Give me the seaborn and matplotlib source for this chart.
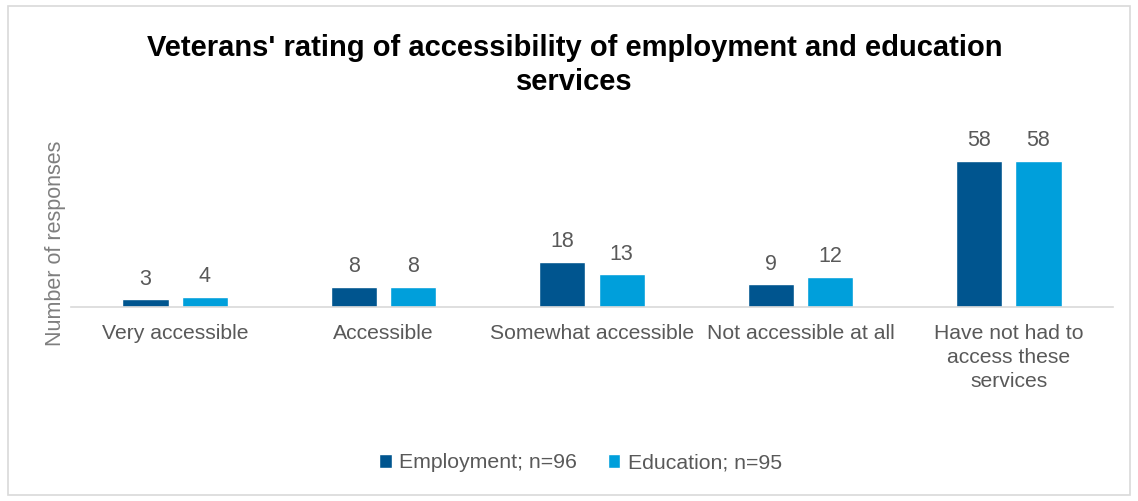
import matplotlib
matplotlib.use("Agg")
import matplotlib.pyplot as plt
import seaborn as sns
import pandas as pd
from matplotlib.patches import Rectangle

categories = ["Very accessible", "Accessible", "Somewhat accessible",
              "Not accessible at all", "Have not had to\naccess these\nservices"]
employment = [3, 8, 18, 9, 58]
education = [4, 8, 13, 12, 58]
series_names = ["Employment; n=96", "Education; n=95"]
colors = ["#00558F", "#009FDB"]

df = pd.DataFrame({
    "category": categories * 2,
    "value": employment + education,
    "series": [series_names[0]] * len(categories) + [series_names[1]] * len(categories),
})

sns.set_theme(style="white")
plt.rcParams["font.family"] = ["Liberation Sans", "DejaVu Sans"]

grey = "#595959"
fig = plt.figure(figsize=(11.38, 5.01), dpi=100)
ax = fig.add_axes([71 / 1138, 194 / 501, 1042 / 1138, 176 / 501])

sns.barplot(data=df, x="category", y="value", hue="series", palette=colors,
            width=0.57, gap=0.22, ax=ax, legend=True, saturation=1)

for cont in ax.containers:
    ax.bar_label(cont, fmt="%d", padding=7, fontsize=15.5, color=grey)

ax.set_ylim(0, 70)
ax.set_xlim(-0.5, len(categories) - 0.5)
ax.set_yticks([])
ax.set_xlabel("")
ax.set_ylabel("")
ax.tick_params(axis="x", labelsize=15.2, labelcolor=grey, length=0, pad=12)
for lbl in ax.get_xticklabels():
    lbl.set_linespacing(1.35)
for s in ["top", "right", "left"]:
    ax.spines[s].set_visible(False)
ax.spines["bottom"].set_color("#d9d9d9")
ax.spines["bottom"].set_linewidth(1.2)

fig.text(55 / 1138, 1 - 243 / 501, "Number of responses", rotation=90,
         ha="center", va="center", fontsize=15.5, color="#7f7f7f")

fig.suptitle("Veterans' rating of accessibility of employment and education\nservices",
             x=0.505, y=0.932, fontsize=21, fontweight="bold", color="black",
             linespacing=1.27, va="top")

handles, labels = ax.get_legend_handles_labels()
ax.legend_.remove()
fig.legend(handles, labels, loc="center", bbox_to_anchor=(0.51, 0.076), ncol=2,
           frameon=False, fontsize=15.3, labelcolor=grey, handlelength=0.6,
           handleheight=0.6, handletextpad=0.35, columnspacing=1.45)

fig.patches.append(Rectangle((8 / 1138, 6 / 501), 1122 / 1138, 489 / 501,
                             transform=fig.transFigure, fill=False,
                             edgecolor="#d9d9d9", linewidth=1.2))

fig.savefig("out.png", dpi=100, facecolor="white")
